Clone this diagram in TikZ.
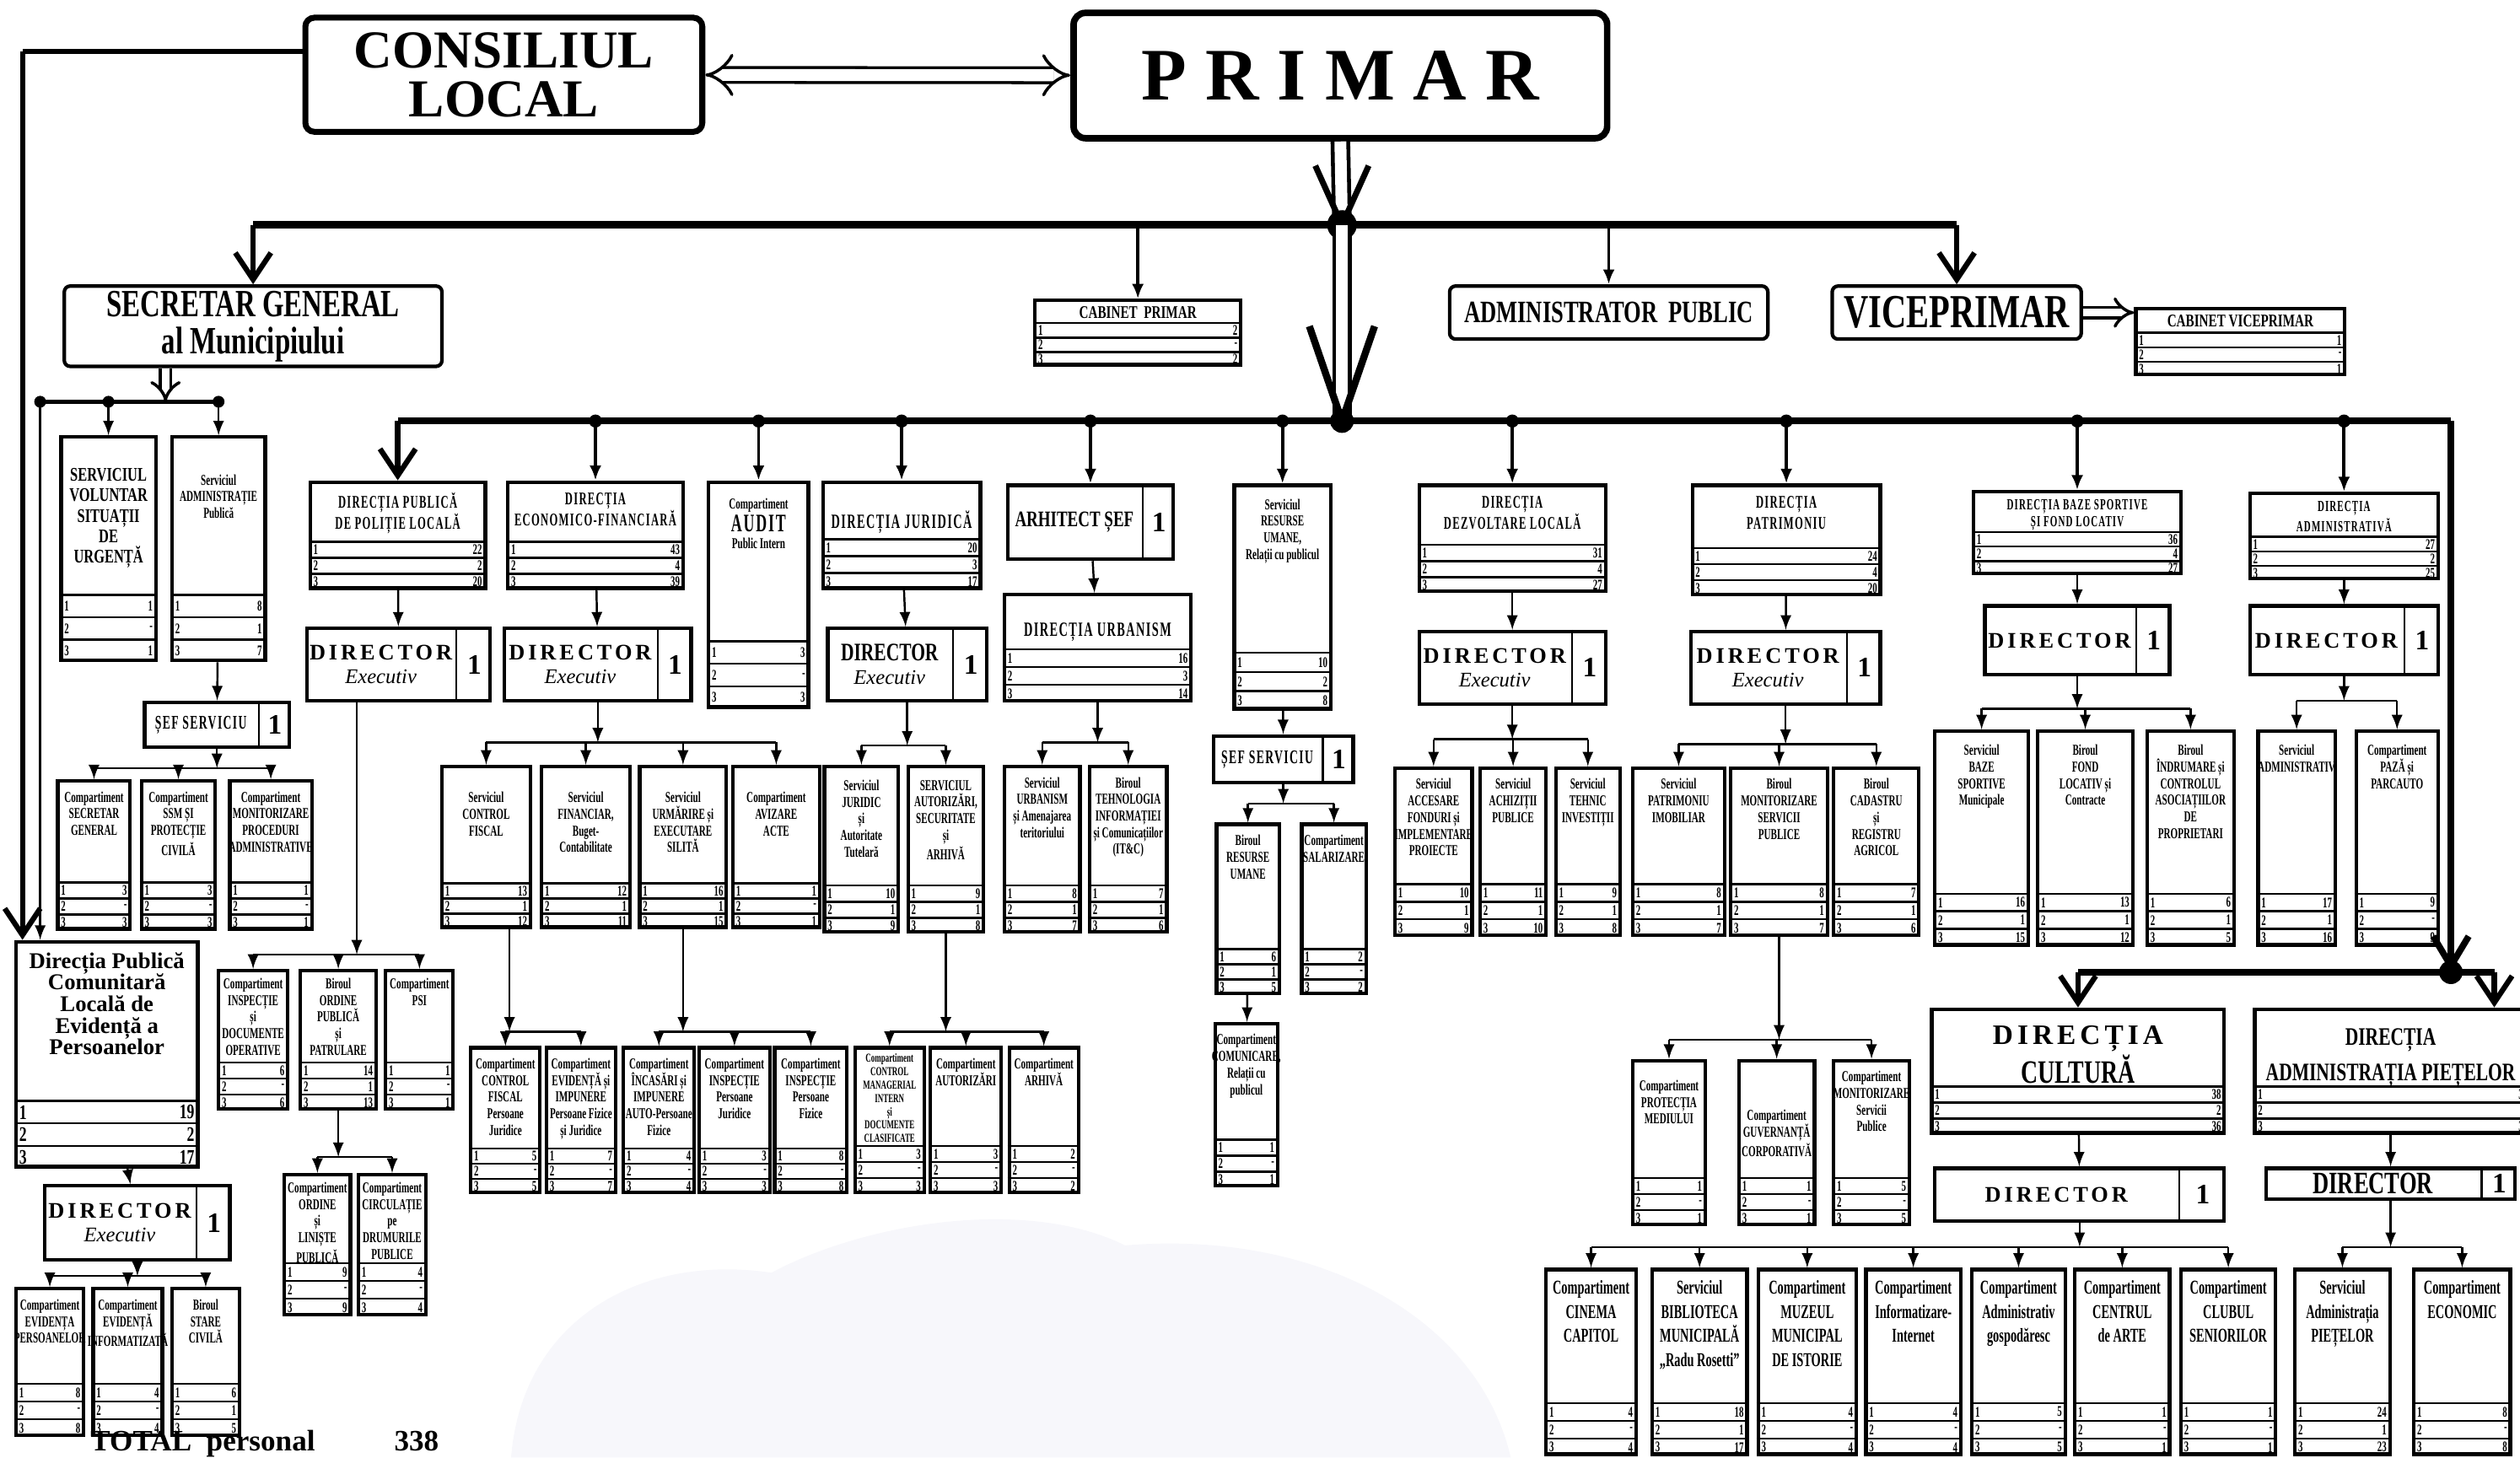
\documentclass[tikz,border=0pt]{standalone}
\usepackage{fontspec}
\setmainfont{Liberation Serif}[FakeStretch=0.72]
\newfontfamily\widefont{Liberation Serif}
\newfontfamily\narrowfont{Liberation Serif}[FakeStretch=0.62]
\newfontfamily\dirfont{Liberation Serif}[FakeStretch=0.6,LetterSpace=6]
\newfontfamily\dirwide{Liberation Serif}[LetterSpace=15]
\usepackage{tikz}
\usetikzlibrary{arrows.meta,fit}
\tikzset{>=latex}
\usepackage{xcolor}
\definecolor{cloud}{RGB}{247,247,251}
\tikzstyle{box}=[draw,line width=1.2pt,inner sep=0pt]
\tikzstyle{rowline}=[line width=0.7pt]
\tikzstyle{ttl}=[align=center,inner sep=1pt]
\tikzstyle{num}=[inner sep=0pt]
\tikzstyle{tn}=[font=\narrowfont\bfseries\fontsize{5.1}{5.6}\selectfont]
\tikzstyle{ts}=[font=\narrowfont\bfseries\fontsize{4.1}{4.5}\selectfont]
\tikzstyle{tc}=[font=\narrowfont\bfseries\fontsize{6.6}{8.2}\selectfont]
\tikzstyle{tm}=[font=\bfseries\fontsize{6.5}{6.9}\selectfont]
\tikzstyle{td}=[font=\dirfont\bfseries\fontsize{6}{7.2}\selectfont]
\tikzstyle{tdd}=[font=\dirfont\bfseries\fontsize{5.2}{5.6}\selectfont]
\tikzstyle{tj}=[font=\dirfont\bfseries\fontsize{6.8}{8}\selectfont]
\tikzstyle{tk}=[font=\dirwide\bfseries\fontsize{9.5}{10.5}\selectfont]
\tikzstyle{tq}=[font=\bfseries\fontsize{8.5}{12}\selectfont]
\tikzstyle{tp}=[font=\widefont\bfseries\fontsize{7.6}{7.3}\selectfont]
\tikzstyle{tcab}=[font=\bfseries\fontsize{6}{6}\selectfont]
\tikzstyle{tfont}=[tn]
\tikzstyle{nfont}=[font=\narrowfont\bfseries\fontsize{5}{5}\selectfont]
\tikzstyle{dtxt}=[font=\bfseries\fontsize{7}{8}\selectfont,align=center,inner sep=0pt]
\tikzstyle{one}=[font=\widefont\bfseries\fontsize{9.5}{9.5}\selectfont,inner sep=0pt]
\tikzstyle{conn}=[line width=0.7pt]
\tikzstyle{feed}=[line width=1.1pt,-{Latex[length=5pt,width=4pt]}]
\tikzstyle{bus}=[line width=2.2pt]
\tikzstyle{dbl}=[double,double distance=2.5pt,line width=1pt]
\tikzstyle{barb}=[line width=1.8pt,-{Straight Barb[length=9pt,width=12pt]}]
\tikzstyle{head}=[line width=2pt,line join=miter]
\def\px{0.1906mm}
\def\rh{10}
\def\ty{3pt}
% box with title and the three rows of posts
\newcommand\orgbox[9]{%
  \node[box,fit={(#2,#3) (#4,#5)}] (#1) {};
  \node[ttl,tfont,anchor=north] (#1-t) at ([yshift=-\ty]#1.north) {#6};
  \foreach \ri/\rv in {1/#7,2/#8,3/#9}{
    \draw[rowline] ([yshift={(4-\ri)*\rh*\px}]#1.south west) -- ([yshift={(4-\ri)*\rh*\px}]#1.south east);
    \node[num,nfont,anchor=west] (#1-a\ri) at ([xshift=1.5pt,yshift={(3.5-\ri)*\rh*\px}]#1.south west) {\ri};
    \node[num,nfont,anchor=east] (#1-b\ri) at ([xshift=-1.5pt,yshift={(3.5-\ri)*\rh*\px}]#1.south east) {\rv};
  }
}
% box with a cell for the number of posts
\newcommand\splitbox[7]{%
  \node[box,fit={(#2,#3) (#4,#5)}] (#1) {};
  \draw[line width=0.6pt] ([xshift={-#6*\px}]#1.north east) -- ([xshift={-#6*\px}]#1.south east);
  \node[dtxt] (#1-t) at ([xshift={-#6*0.5*\px}]#1.center) {#7};
  \node[one] (#1-n) at ([xshift={-#6*0.5*\px}]#1.east) {1};
}
% one parent, a bar, and arrows to the children
\newcommand\fan[3]{%
  \coordinate (fy) at (0,#2);
  \coordinate (fj) at (#1 |- fy);
  \draw[conn,->] (#1) -- (fj);
  \foreach \ch in {#3}{
    \draw[conn] (fj) -- (fj -| \ch.north);
    \draw[conn,->] (fj -| \ch.north) -- (\ch.north);
  }
}
\newcommand\dirx{\dirwide\fontsize{7.5}{8}\selectfont DIRECTOR\\\widefont\mdseries\itshape\fontsize{7}{8}\selectfont Executiv}
\newcommand\dirn{\fontsize{8.5}{8}\selectfont DIRECTOR\\\widefont\mdseries\itshape\fontsize{7}{8}\selectfont Executiv}

\begin{document}
\begin{tikzpicture}[x=0.1906mm,y=-0.1906mm]
  \useasboundingbox (0,0) rectangle (1568,907);
  \clip (0,0) rectangle (1568,907);
  \fill[cloud] (318,907) .. controls (325,820) and (400,780) .. (480,792)
    .. controls (540,760) and (640,745) .. (700,775)
    .. controls (820,765) and (920,820) .. (940,907) -- cycle;

  % TOP
  \node[box,line width=2pt,rounded corners=3pt,fit={(190,11) (437,82)}] (cl) {};
  \node[font=\widefont\bfseries\fontsize{18}{16.5}\selectfont,align=center] (cl-t) at (cl) {CONSILIUL\\LOCAL};
  \node[box,line width=2.2pt,rounded corners=4pt,fit={(668,8) (1000,86)}] (pr) {};
  \node[font=\widefont\bfseries\fontsize{25}{25}\selectfont] (pr-t) at (pr)
    {P\hspace{.25em}R\hspace{.25em}I\hspace{.25em}M\hspace{.25em}A\hspace{.25em}R};
  \node[box,rounded corners=2pt,fit={(40,178) (275,228)}] (sg) {};
  \node[font=\bfseries\fontsize{13}{12.5}\selectfont,align=center] (sg-t) at (sg) {SECRETAR GENERAL\\al Municipiului};
  \node[box,rounded corners=2pt,fit={(902,178) (1100,211)}] (ap) {};
  \node[font=\bfseries\fontsize{10.5}{11}\selectfont] (ap-t) at (ap) {ADMINISTRATOR\ \ PUBLIC};
  \node[box,rounded corners=2pt,fit={(1140,178) (1295,211)}] (vp) {};
  \node[font=\bfseries\fontsize{16}{16}\selectfont] (vp-t) at (vp) {VICEPRIMAR};
  \def\rh{9}\def\ty{1.5pt}\tikzset{tfont/.style=tcab}
  \orgbox{cp}{644}{187}{772}{227}{CABINET\ \ PRIMAR}{2}{-}{2}
  \orgbox{cvp}{1329}{192}{1459}{233}{CABINET VICEPRIMAR}{1}{-}{1}

  % SECRETAR GENERAL
  \def\rh{14}\def\ty{10pt}\tikzset{tfont/.style=tm}
  \orgbox{svsu}{38}{272}{97}{411}{SERVICIUL\\VOLUNTAR\\SITUAȚII\\DE\\URGENȚĂ}{1}{-}{1}
  \def\ty{12pt}\tikzset{tfont/.style=tn}
  \orgbox{sap}{107}{272}{165}{411}{Serviciul\\ADMINISTRAȚIE\\Publică}{8}{1}{7}
  \splitbox{sef1}{90}{437}{180}{465}{20}{\dirfont\fontsize{6.5}{7}\selectfont ȘEF SERVICIU}
  \def\rh{10}\def\ty{3pt}
  \orgbox{cpsg}{36}{486}{81}{578}{Compartiment\\SECRETAR\\GENERAL}{3}{-}{3}
  \orgbox{cssm}{88}{486}{134}{578}{Compartiment\\SSM ȘI\\PROTECȚIE\\CIVILĂ}{3}{-}{3}
  \orgbox{cmpa}{143}{486}{194}{578}{Compartiment\\MONITORIZARE\\PROCEDURI\\ADMINISTRATIVE}{1}{-}{1}
  \def\rh{14}\def\ty{3pt}\tikzset{tfont/.style=tp,nfont/.style={font=\bfseries\fontsize{7}{7}\selectfont}}
  \orgbox{dpc}{10}{586}{123}{726}{Direcția Publică\\Comunitară\\Locală de\\Evidență a\\Persoanelor}{19}{2}{17}
  \tikzset{nfont/.style={font=\narrowfont\bfseries\fontsize{5}{5}\selectfont}}
  \splitbox{ddpc}{28}{738}{143}{784}{22}{\dirx}
  \def\rh{11}\def\ty{3pt}\tikzset{tfont/.style=tn}
  \orgbox{cep}{10}{802}{52}{893}{Compartiment\\EVIDENȚA\\PERSOANELOR}{8}{-}{8}
  \orgbox{cei}{58}{802}{101}{893}{Compartiment\\EVIDENȚĂ\\INFORMATIZATĂ}{4}{-}{4}
  \orgbox{bsc}{107}{802}{149}{893}{Biroul\\STARE\\CIVILĂ}{6}{1}{5}
  \node[font=\widefont\bfseries\fontsize{10}{10}\selectfont,anchor=base west,inner sep=0pt] (tot) at (56,903) {TOTAL\ \ personal};
  \node[font=\widefont\bfseries\fontsize{10}{10}\selectfont,anchor=base west,inner sep=0pt] (totn) at (245,903) {338};

  % POLITIE LOCALA
  \def\rh{10}\tikzset{tfont/.style=td}
  \orgbox{dpl}{193}{300}{302}{366}{DIRECȚIA PUBLICĂ\\DE POLIȚIE LOCALĂ}{22}{2}{20}
  \splitbox{ddpl}{191}{391}{305}{436}{22}{\dirx}
  \def\ty{2pt}\tikzset{tfont/.style=tn}
  \orgbox{cido}{136}{604}{179}{690}{Compartiment\\INSPECȚIE\\și\\DOCUMENTE\\OPERATIVE}{6}{-}{6}
  \orgbox{bop}{187}{604}{234}{690}{Biroul\\ORDINE\\PUBLICĂ\\și\\PATRULARE}{14}{1}{13}
  \orgbox{cpsi}{240}{604}{282}{690}{Compartiment\\PSI}{1}{-}{1}
  \def\rh{11}
  \orgbox{cool}{177}{731}{218}{818}{Compartiment\\ORDINE\\și\\LINIȘTE\\PUBLICĂ}{9}{-}{9}
  \orgbox{ccdp}{223}{731}{265}{818}{Compartiment\\CIRCULAȚIE\\pe\\DRUMURILE\\PUBLICE}{4}{-}{4}

  % ECONOMICO-FINANCIARA
  \def\rh{10}\def\ty{3pt}\tikzset{tfont/.style=td}
  \orgbox{def}{316}{300}{425}{366}{DIRECȚIA\\ECONOMICO-FINANCIARĂ}{43}{4}{39}
  \splitbox{ddef}{314}{391}{430}{436}{22}{\dirx}
  \def\rh{9.5}\def\ty{8pt}\tikzset{tfont/.style=tn}
  \orgbox{scf}{275}{477}{330}{577}{Serviciul\\CONTROL\\FISCAL}{13}{1}{12}
  \orgbox{sfin}{337}{477}{392}{577}{Serviciul\\FINANCIAR,\\Buget-\\Contabilitate}{12}{1}{11}
  \orgbox{sues}{398}{477}{452}{577}{Serviciul\\URMĂRIRE și\\EXECUTARE\\SILITĂ}{16}{1}{15}
  \orgbox{caa}{456}{477}{510}{577}{Compartiment\\AVIZARE\\ACTE}{1}{-}{1}
  \def\ty{3pt}
  \orgbox{ccfpj}{293}{652}{336}{742}{Compartiment\\CONTROL\\FISCAL\\Persoane\\Juridice}{5}{-}{5}
  \orgbox{ceipf}{340}{652}{383}{742}{Compartiment\\EVIDENȚĂ și\\IMPUNERE\\Persoane Fizice\\și Juridice}{7}{-}{7}
  \orgbox{cip}{388}{652}{432}{742}{Compartiment\\ÎNCASĂRI și\\IMPUNERE\\AUTO-Persoane\\Fizice}{4}{-}{4}
  \orgbox{cipj}{435}{652}{479}{742}{Compartiment\\INSPECȚIE\\Persoane\\Juridice}{3}{-}{3}
  \orgbox{cipf}{482}{652}{527}{742}{Compartiment\\INSPECȚIE\\Persoane\\Fizice}{8}{-}{8}

  % AUDIT
  \def\rh{14}\def\ty{5pt}\tikzset{tfont/.style=tn}
  \orgbox{audit}{441}{300}{503}{440}{Compartiment\\{\dirfont\fontsize{8.5}{8}\selectfont AUDIT}\\Public Intern}{3}{-}{3}

  % JURIDICA
  \def\rh{10.5}\def\ty{9pt}\tikzset{tfont/.style=tj}
  \orgbox{djur}{512}{300}{610}{366}{DIRECȚIA JURIDICĂ}{20}{3}{17}
  \splitbox{ddjur}{515}{391}{614}{436}{22}{\dirn}
  \def\rh{10}\def\ty{4pt}\tikzset{tfont/.style=tn}
  \orgbox{sjat}{513}{477}{559}{580}{Serviciul\\JURIDIC\\și\\Autoritate\\Tutelară}{10}{1}{9}
  \orgbox{saa}{565}{477}{612}{580}{SERVICIUL\\AUTORIZĂRI,\\SECURITATE\\și\\ARHIVĂ}{9}{1}{8}
  \def\ty{1.5pt}\tikzset{tfont/.style=ts}
  \orgbox{ccmi}{532}{652}{575}{742}{Compartiment\\CONTROL\\MANAGERIAL\\INTERN\\și\\DOCUMENTE\\CLASIFICATE}{3}{-}{3}
  \def\ty{3pt}\tikzset{tfont/.style=tn}
  \orgbox{caut}{579}{652}{623}{742}{Compartiment\\AUTORIZĂRI}{3}{-}{3}
  \orgbox{carh}{628}{652}{671}{742}{Compartiment\\ARHIVĂ}{2}{-}{2}

  % ARHITECT SEF
  \splitbox{arh}{627}{302}{730}{348}{20}{\fontsize{7.5}{8}\selectfont ARHITECT ȘEF}
  \def\rh{11}\def\ty{9pt}\tikzset{tfont/.style=tj}
  \orgbox{durb}{625}{370}{741}{436}{DIRECȚIA URBANISM}{16}{3}{14}
  \def\rh{10}\def\ty{3pt}\tikzset{tfont/.style=tn}
  \orgbox{surb}{625}{477}{672}{580}{Serviciul\\URBANISM\\și Amenajarea\\teritoriului}{8}{1}{7}
  \orgbox{btic}{678}{477}{726}{580}{Biroul\\TEHNOLOGIA\\INFORMAȚIEI\\și Comunicațiilor\\(IT\&C)}{7}{1}{6}

  % RESURSE UMANE
  \def\rh{12}\def\ty{4pt}
  \orgbox{rum}{768}{302}{828}{441}{Serviciul\\RESURSE\\UMANE,\\Relații cu publicul}{10}{2}{8}
  \splitbox{sef2}{755}{458}{842}{487}{20}{\dirfont\fontsize{6.5}{7}\selectfont ȘEF SERVICIU}
  \def\rh{9.5}\def\ty{3pt}
  \orgbox{bru}{757}{513}{796}{618}{Biroul\\RESURSE\\UMANE}{6}{1}{5}
  \orgbox{csal}{810}{513}{850}{618}{Compartiment\\SALARIZARE}{2}{-}{2}
  \def\rh{10}
  \orgbox{ccom}{756}{637}{795}{738}{Compartiment\\COMUNICARE,\\Relații cu\\publicul}{1}{-}{1}

  % DEZVOLTARE LOCALA
  \def\rh{10}\tikzset{tfont/.style=td}
  \orgbox{ddl}{883}{302}{999}{368}{DIRECȚIA\\DEZVOLTARE LOCALĂ}{31}{4}{27}
  \splitbox{dddl}{883}{393}{999}{438}{22}{\dirx}
  \def\rh{11}\tikzset{tfont/.style=tn}
  \orgbox{safi}{868}{478}{916}{582}{Serviciul\\ACCESARE\\FONDURI și\\IMPLEMENTARE\\PROIECTE}{10}{1}{9}
  \orgbox{sacp}{921}{478}{962}{582}{Serviciul\\ACHIZIȚII\\PUBLICE}{11}{1}{10}
  \orgbox{sti}{968}{478}{1008}{582}{Serviciul\\TEHNIC\\INVESTIȚII}{9}{1}{8}

  % PATRIMONIU
  \def\rh{10}\tikzset{tfont/.style=td}
  \orgbox{dpat}{1053}{302}{1170}{370}{DIRECȚIA\\PATRIMONIU}{24}{4}{20}
  \splitbox{ddpat}{1052}{393}{1170}{438}{22}{\dirx}
  \def\rh{11}\tikzset{tfont/.style=tn}
  \orgbox{spi}{1016}{478}{1073}{582}{Serviciul\\PATRIMONIU\\IMOBILIAR}{8}{1}{7}
  \orgbox{bmsp}{1077}{478}{1137}{582}{Biroul\\MONITORIZARE\\SERVICII\\PUBLICE}{8}{1}{7}
  \orgbox{bcra}{1141}{478}{1194}{582}{Biroul\\CADASTRU\\și\\REGISTRU\\AGRICOL}{7}{1}{6}
  \def\rh{10}\def\ty{6pt}
  \orgbox{cpm}{1016}{660}{1061}{762}{Compartiment\\PROTECȚIA\\MEDIULUI}{1}{-}{1}
  \def\ty{16pt}
  \orgbox{cgc}{1082}{660}{1129}{762}{Compartiment\\GUVERNANȚĂ\\CORPORATIVĂ}{1}{-}{1}
  \def\ty{3pt}
  \orgbox{cmsp}{1141}{660}{1188}{762}{Compartiment\\MONITORIZARE\\Servicii\\Publice}{5}{-}{5}

  % BAZE SPORTIVE
  \def\rh{9}\def\ty{2pt}\tikzset{tfont/.style=tdd}
  \orgbox{dbs}{1228}{306}{1357}{357}{DIRECȚIA BAZE SPORTIVE\\ȘI FOND LOCATIV}{36}{4}{27}
  \splitbox{ddbs}{1235}{377}{1350}{420}{22}{\dirwide\fontsize{7.5}{8}\selectfont DIRECTOR}
  \def\rh{11}\def\ty{4pt}\tikzset{tfont/.style=tn}
  \orgbox{sbs}{1204}{455}{1262}{588}{Serviciul\\BAZE\\SPORTIVE\\Municipale}{16}{1}{15}
  \orgbox{bfl}{1268}{455}{1327}{588}{Biroul\\FOND\\LOCATIV și\\Contracte}{13}{1}{12}
  \orgbox{bicap}{1336}{455}{1390}{588}{Biroul\\ÎNDRUMARE și\\CONTROLUL\\ASOCIAȚIILOR\\DE\\PROPRIETARI}{6}{1}{5}

  % ADMINISTRATIVA
  \def\rh{9}\def\ty{2pt}\tikzset{tfont/.style=tdd}
  \orgbox{dadm}{1400}{307}{1517}{360}{DIRECȚIA\\ADMINISTRATIVĂ}{27}{2}{25}
  \splitbox{dda}{1400}{377}{1517}{420}{22}{\dirwide\fontsize{7.5}{8}\selectfont DIRECTOR}
  \def\rh{11}\def\ty{4pt}\tikzset{tfont/.style=tn}
  \orgbox{sadm}{1405}{455}{1453}{588}{Serviciul\\ADMINISTRATIV}{17}{1}{16}
  \orgbox{cpp}{1466}{455}{1517}{588}{Compartiment\\PAZĂ și\\PARCAUTO}{9}{-}{9}

  % CULTURA, PIETE
  \def\rh{10}\def\ty{5pt}\tikzset{tfont/.style=tk}
  \orgbox{dcul}{1202}{628}{1384}{705}{DIRECȚIA\\{\rmfamily\fontsize{11}{11}\selectfont CULTURĂ}}{38}{2}{36}
  \def\ty{6pt}\tikzset{tfont/.style=tq}
  \orgbox{dpie}{1403}{628}{1572}{705}{DIRECȚIA\\ADMINISTRAȚIA PIEȚELOR}{3}{}{3}
  \splitbox{ddcul}{1204}{727}{1384}{760}{29}{\dirwide\fontsize{7.5}{8}\selectfont DIRECTOR}
  \splitbox{ddpie}{1410}{727}{1565}{746}{22}{\fontsize{10.5}{10.5}\selectfont DIRECTOR}
  \def\rh{11}\def\ty{3pt}\tikzset{tfont/.style=tc}
  \orgbox{ccc}{962}{790}{1018}{905}{Compartiment\\CINEMA\\CAPITOL}{4}{-}{4}
  \orgbox{sbib}{1028}{790}{1087}{905}{Serviciul\\BIBLIOTECA\\MUNICIPALĂ\\„Radu Rosetti”}{18}{1}{17}
  \orgbox{cmmi}{1094}{790}{1155}{905}{Compartiment\\MUZEUL\\MUNICIPAL\\DE ISTORIE}{4}{-}{4}
  \orgbox{cii}{1161}{790}{1220}{905}{Compartiment\\Informatizare-\\Internet}{4}{-}{4}
  \orgbox{cag}{1227}{790}{1285}{905}{Compartiment\\Administrativ\\gospodăresc}{5}{-}{5}
  \orgbox{cca}{1291}{790}{1350}{905}{Compartiment\\CENTRUL\\de ARTE}{1}{-}{1}
  \orgbox{ccs}{1357}{790}{1416}{905}{Compartiment\\CLUBUL\\SENIORILOR}{1}{-}{1}
  \orgbox{sapi}{1428}{790}{1487}{905}{Serviciul\\Administrația\\PIEȚELOR}{24}{1}{23}
  \orgbox{cec}{1502}{790}{1562}{905}{Compartiment\\ECONOMIC}{8}{-}{8}

  % CONNECTIONS
  \coordinate (b1) at (835,140);
  \coordinate (b2) at (835,262);
  \coordinate (rc) at (1525,262);
  \coordinate (b3) at (1525,605);
  \coordinate (pj) at (1552,605);
  \coordinate (lc) at (14,32);
  \draw[dbl,double distance=4pt,{Implies}-{Implies}] (cl) -- (pr);
  \draw[line width=1.8pt] (cl.west |- lc) -- (lc);
  \draw[barb] (lc) -- (lc |- dpc.north);
  \draw[bus,line width=2.6pt] (sg.north |- b1) -- (vp.north |- b1);
  \draw[barb] (sg.north |- b1) -- (sg.north);
  \draw[feed] (cp.north |- b1) -- (cp.north);
  \draw[feed] (ap.north |- b1) -- (ap.north);
  \draw[barb] (vp.north |- b1) -- (vp.north);
  \draw[dbl,double distance=4pt,line width=1.3pt] (pr.south) -- (b1);
  \draw[head] ([shift={(-9pt,20pt)}]b1) -- (b1) -- ([shift={(9pt,20pt)}]b1);
  \fill (b1) circle (5pt);
  \draw[dbl,double distance=4pt,line width=1.3pt] (b1) -- (b2);
  \draw[head,line width=2.4pt] ([shift={(-11pt,32pt)}]b2) -- (b2) -- ([shift={(11pt,32pt)}]b2);
  \fill (b2) circle (4pt);
  \draw[dbl,-{Implies}] (vp.east) -- (vp.east -| cvp.west);

  % bar of the directions
  \draw[bus] (dpl.north |- b2) -- (rc);
  \draw[bus,-{Straight Barb[length=10pt,width=12pt]}] (rc) -- (b3);
  \fill (b3) circle (4pt);
  \draw[barb] (dpl.north |- b2) -- (dpl.north);
  \foreach \ch in {def,audit,djur,arh,rum,ddl,dpat,dbs,dadm}{
    \fill (b2 -| \ch.north) circle (2.2pt);
    \draw[feed] (b2 -| \ch.north) -- (\ch.north);
  }
  \draw[bus] (dcul.north |- b3) -- (pj);
  \draw[barb] (dcul.north |- b3) -- (dcul.north);
  \draw[barb] (pj) -- (pj |- dpie.north);

  % secretar general
  \coordinate (sgj) at (103,250);
  \coordinate (sgl) at (25,250);
  \draw[dbl,-{Implies}] (sgj |- sg.south) -- (sgj);
  \draw[line width=1.2pt] (sgl) -- (sap.north |- sgl);
  \foreach \ch in {svsu,sap}{
    \fill (\ch.north |- sgl) circle (2pt);
    \draw[conn,->] (\ch.north |- sgl) -- (\ch.north);
  }
  \fill (sgl) circle (2pt);
  \draw[conn,->] (sgl) -- (sgl |- dpc.north);
  \draw[conn,->] (sap) -- (sef1);
  \fan{sef1.south}{478}{cpsg,cssm,cmpa}
  \draw[conn,->] (dpc) -- (ddpc);
  \fan{ddpc.south}{794}{cep,cei,bsc}

  % directions
  \draw[conn,->] (dpl) -- (ddpl);
  \coordinate (s1) at (222,436);
  \fan{s1}{594}{cido,bop,cpsi}
  \fan{bop.south}{720}{cool,ccdp}
  \draw[conn,->] (def) -- (ddef);
  \fan{ddef.south}{462}{scf,sfin,sues,caa}
  \coordinate (s2) at (317,577);
  \fan{s2}{642}{ccfpj,ceipf}
  \fan{sues.south}{642}{cip,cipj,cipf}
  \draw[conn,->] (djur) -- (ddjur);
  \fan{ddjur.south}{464}{sjat,saa}
  \fan{saa.south}{642}{ccmi,caut,carh}
  \draw[conn,->] (arh) -- (durb);
  \fan{durb.south}{462}{surb,btic}
  \draw[conn,->] (rum) -- (sef2);
  \fan{sef2.south}{500}{bru,csal}
  \draw[conn,->] (bru) -- (ccom);
  \draw[conn,->] (ddl) -- (dddl);
  \fan{dddl.south}{460}{safi,sacp,sti}
  \draw[conn,->] (dpat) -- (ddpat);
  \fan{ddpat.south}{463}{spi,bmsp,bcra}
  \fan{bmsp.south}{647}{cpm,cgc,cmsp}
  \draw[conn,->] (dbs) -- (ddbs);
  \fan{ddbs.south}{441}{sbs,bfl,bicap}
  \draw[conn,->] (dadm) -- (dda);
  \fan{dda.south}{436}{sadm,cpp}
  \draw[conn,->] (dcul) -- (ddcul);
  \fan{ddcul.south}{776}{ccc,sbib,cmmi,cii,cag,cca,ccs}
  \draw[conn,->] (dpie) -- (ddpie);
  \fan{ddpie.south}{776}{sapi,cec}
\end{tikzpicture}
\end{document}
